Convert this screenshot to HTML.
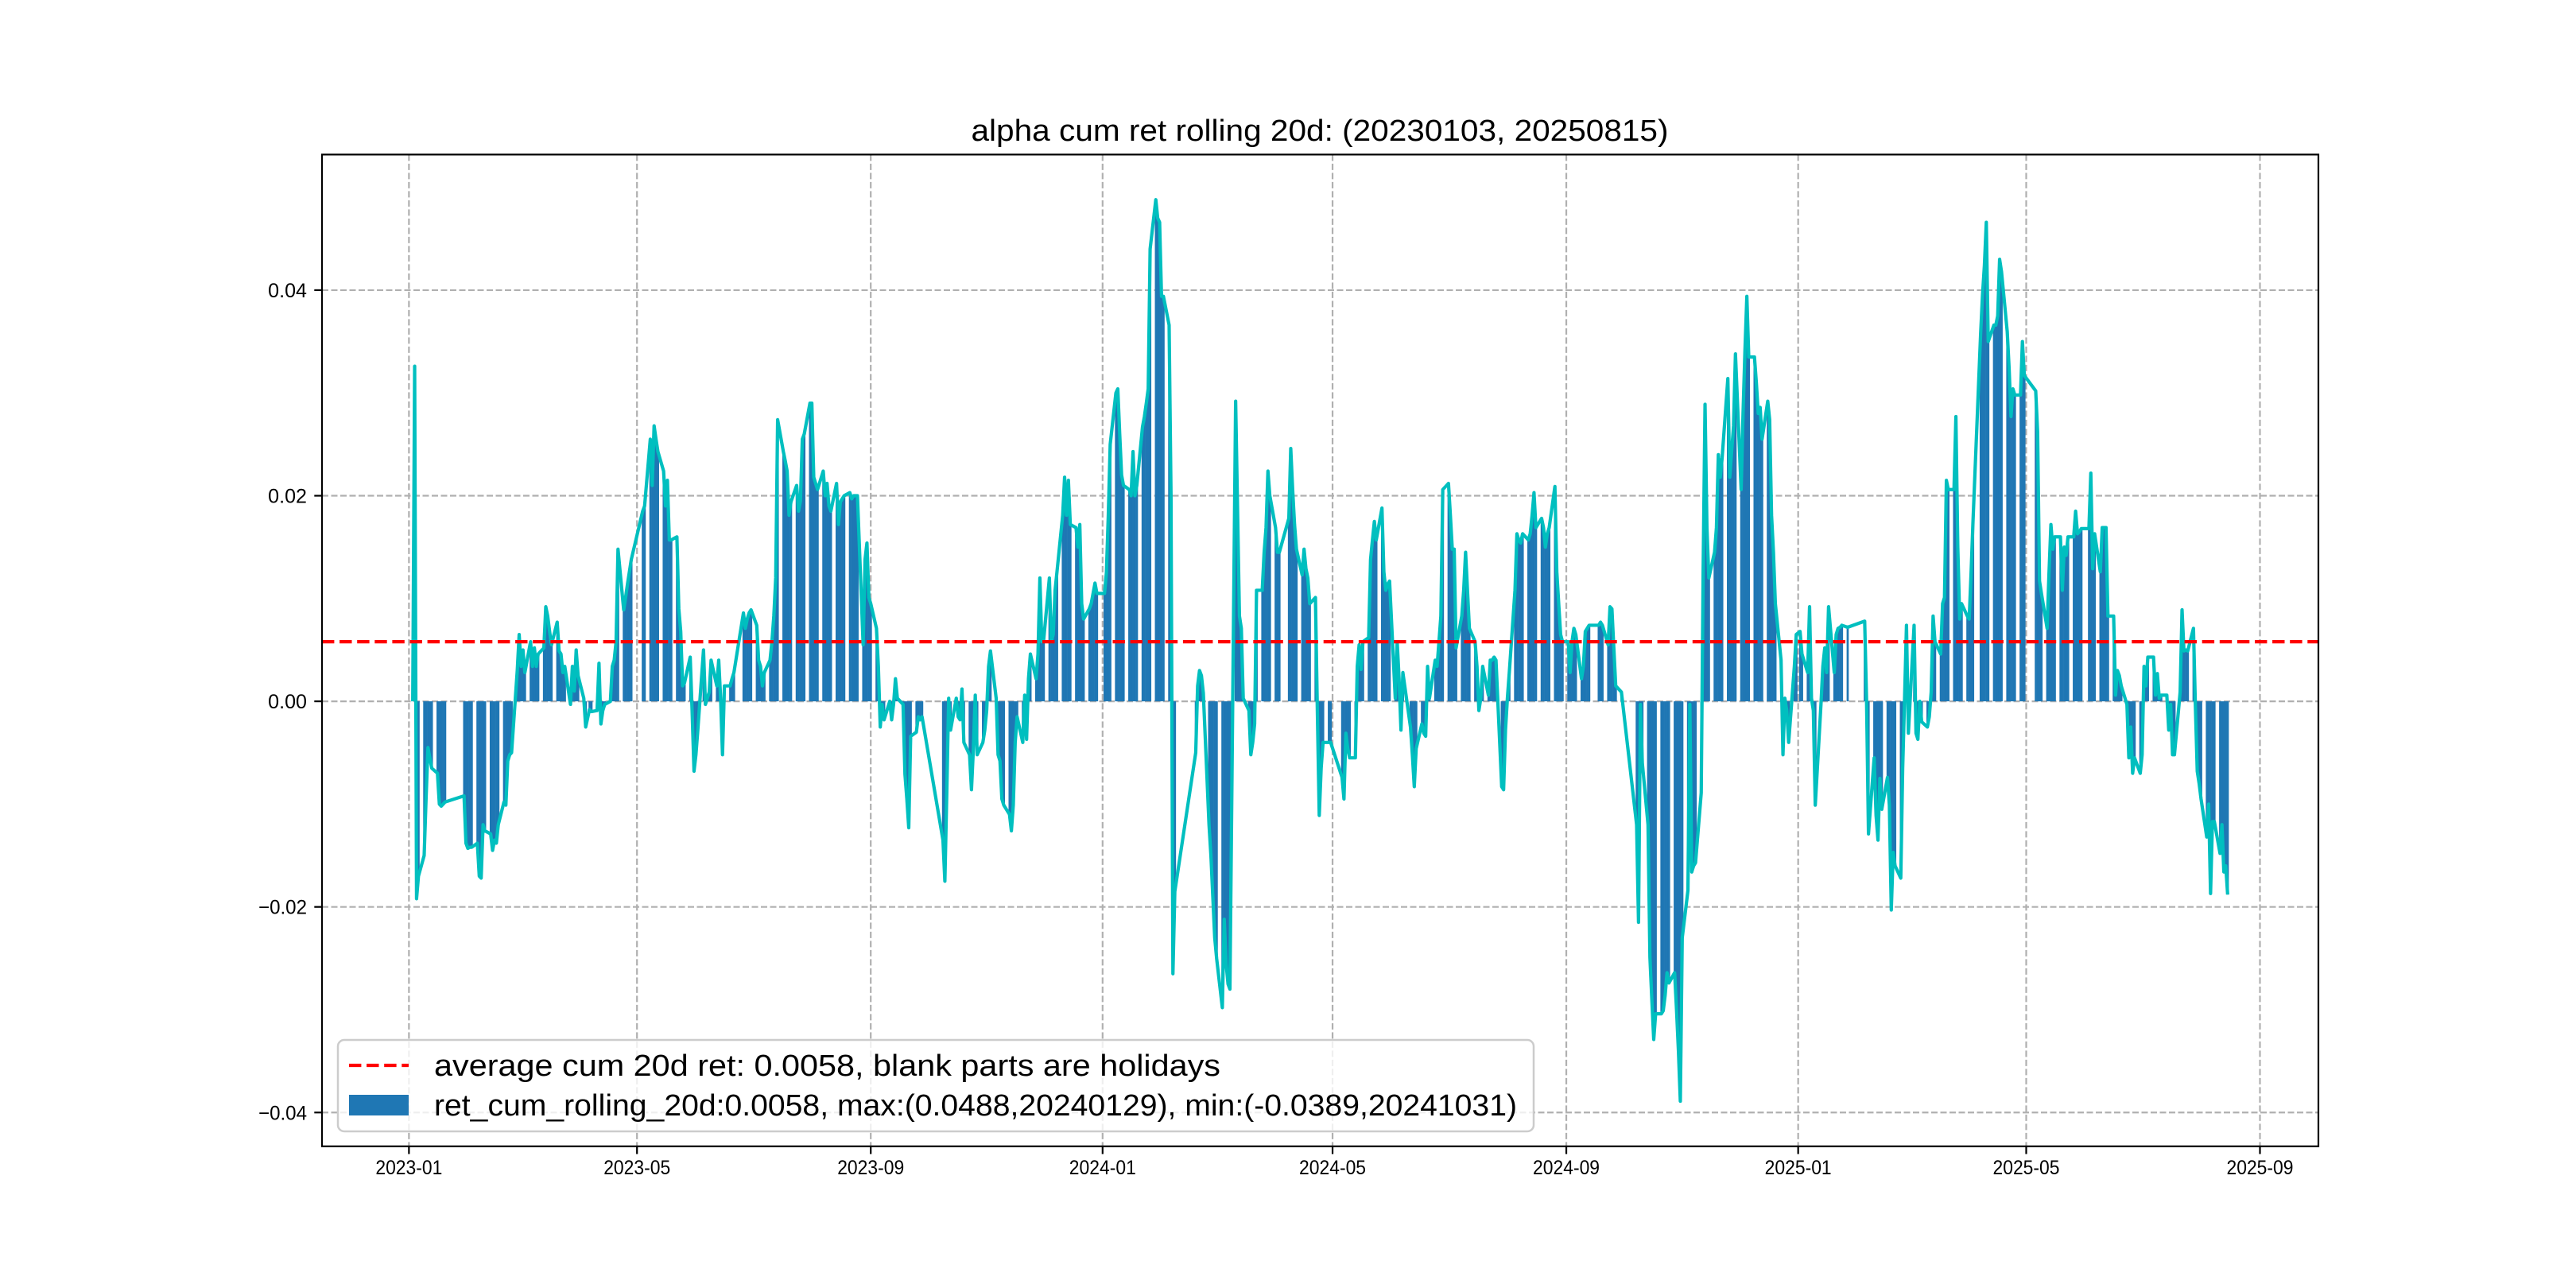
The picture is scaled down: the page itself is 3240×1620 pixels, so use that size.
<!DOCTYPE html>
<html>
<head>
<meta charset="utf-8">
<style>
  html,body{margin:0;padding:0;background:#fff;}
  svg{display:block;}
  text{font-family:"Liberation Sans","Noto Sans CJK SC",sans-serif;fill:#000;}
</style>
</head>
<body>
<svg id="chart" xmlns="http://www.w3.org/2000/svg" width="3240" height="1620" viewBox="0 0 3240 1620">
  <rect x="0" y="0" width="3240" height="1620" fill="#ffffff"/>
  <text x="1660" y="177" font-size="38" text-anchor="middle" textLength="877" lengthAdjust="spacingAndGlyphs">alpha cum ret rolling 20d: (20230103, 20250815)</text>
  <g id="grid"></g>
  <g id="bars"></g>
  <g id="lines"></g>
  <rect x="405" y="194.4" width="2511" height="1247.4" fill="none" stroke="#000" stroke-width="2.2"/>
  <g id="axes"></g>
  <g>
    <rect x="425" y="1308" width="1504" height="115" rx="8" ry="8" fill="#ffffff" fill-opacity="0.8" stroke="#cccccc" stroke-width="2.5"/>
    <line x1="439" y1="1340" x2="514" y2="1340" stroke="#ff0000" stroke-width="4.2" stroke-dasharray="15.4 6.7"/>
    <text x="546" y="1353" font-size="38" textLength="989" lengthAdjust="spacingAndGlyphs">average cum 20d ret: 0.0058, blank parts are holidays</text>
    <rect x="439" y="1377" width="75" height="26" fill="#1f77b4"/>
    <text x="546" y="1403" font-size="38" textLength="1362" lengthAdjust="spacingAndGlyphs">ret_cum_rolling_20d:0.0058, max:(0.0488,20240129), min:(-0.0389,20241031)</text>
  </g>
</svg>
<script>
// ---- data ----
const startMonday = [2023, 0, 2]; // weekday series starts Monday 2023-01-02
const values = [
null,0.0,0.0326,-0.0192,-0.017,
-0.015,-0.0095,-0.0045,-0.0055,-0.0065,
-0.007,-0.010,-0.0102,-0.010,-0.0098,
null,null,null,null,null,
-0.0092,-0.0138,-0.0143,-0.0142,-0.0142,
-0.0138,-0.017,-0.0172,-0.012,-0.0126,
-0.0129,-0.0145,-0.0135,-0.0138,-0.012,
-0.0098,-0.0101,-0.0058,-0.0052,-0.005,
0.003,0.0065,0.0034,0.005,0.0028,
0.0058,0.0034,0.0052,0.0034,0.0046,
0.0052,0.0092,0.0083,0.0068,0.0055,
0.0077,0.0049,0.0046,0.0028,0.0034,
-0.0003,0.0034,0.001,0.005,0.0025,
0.0003,-0.0025,null,-0.0008,-0.001,
-0.0009,0.0037,-0.0022,-0.0009,-0.0003,
0.0,0.0034,0.004,0.0058,0.0148,
0.0089,0.0101,0.0114,0.0126,0.0138,
null,null,null,0.0185,0.019,
0.0255,0.021,0.0268,0.0255,0.0243,
0.0224,0.019,0.0215,0.0157,0.0157,
0.016,0.009,0.0068,0.0015,0.0018,
0.0043,-0.0009,-0.0068,-0.0052,-0.0028,
0.005,-0.0003,0.0003,0.0009,0.004,
0.0015,0.004,0.0003,-0.0052,0.0015,
0.0015,0.0022,0.0028,null,null,
0.0086,0.0071,0.008,0.0086,0.0089,
0.0074,0.004,0.0034,0.0015,0.0028,
0.004,0.0058,0.0083,0.012,0.0274,
0.0243,0.0234,0.0224,0.0181,0.0194,
0.021,0.0185,0.0195,0.0255,0.026,
0.029,0.029,0.0218,0.0212,0.0206,
0.0224,0.02,0.0212,0.019,0.0185,
0.0212,0.0172,0.0194,0.0197,0.02,
0.0203,0.0197,0.02,0.02,0.02,
0.0055,0.0138,0.0154,0.0101,0.0095,
0.0071,0.0034,-0.0025,-0.0003,-0.0018,
0.0,-0.0018,-0.0003,0.0022,0.0003,
-0.0003,-0.0071,-0.0095,-0.0123,-0.0034,
-0.003,-0.0015,-0.0018,-0.0015,null,
null,null,null,null,null,
-0.0135,-0.0175,-0.009,0.0003,-0.0028,
0.0003,-0.0015,-0.0018,0.0012,-0.004,
-0.0052,-0.0086,-0.0046,0.0006,-0.0052,
-0.004,-0.0028,-0.0009,0.0034,0.0049,
0.0003,-0.0052,-0.0058,-0.0095,-0.0101,
-0.011,-0.0126,-0.0101,-0.004,-0.0015,
-0.004,0.0006,-0.0037,0.0022,0.0046,
0.0022,0.0046,0.012,0.0058,0.006,
0.012,0.0058,0.0065,0.0108,0.0126,
0.0181,0.0218,0.0181,0.0215,0.0172,
0.0169,0.015,0.0172,0.0095,0.008,
0.009,0.0095,0.0105,0.0115,0.0105,
null,0.0105,0.0125,0.0181,0.025,
0.030,0.0304,0.026,0.022,0.021,
0.0206,0.020,0.0243,0.020,0.021,
0.0267,0.0277,0.029,0.0304,0.044,
0.0488,0.047,0.0466,0.0394,0.0394,
0.0366,0.02,-0.0265,-0.0185,null,
null,null,null,null,null,
-0.005,0.0015,0.003,0.0025,0.0008,
-0.012,-0.015,-0.019,-0.023,-0.025,
-0.0298,-0.0212,-0.0255,-0.0275,-0.028,
0.0292,0.0188,0.0083,0.0071,0.0003,
-0.0009,-0.0052,-0.004,-0.0022,0.0108,
0.0108,0.0145,0.0169,0.0224,0.02,
0.0169,0.0145,0.0145,null,null,
0.0178,0.0246,0.0206,0.0172,0.0148,
0.0123,0.0148,0.0129,0.012,0.0095,
0.0101,-0.0009,-0.0111,-0.0065,-0.004,
-0.004,-0.004,null,null,null,
-0.0074,-0.0095,-0.0031,-0.0046,-0.0055,
-0.0055,0.0034,0.0055,0.0031,0.0058,
0.0062,0.0138,0.0157,0.0175,0.0157,
0.0188,0.0126,0.0108,0.0114,0.0117,
0.0003,0.0058,0.0022,-0.0028,0.0028,
null,-0.0025,-0.0052,-0.0083,-0.0046,
-0.0022,-0.0031,-0.0034,0.0034,0.0003,
0.004,0.0034,0.0058,0.0083,0.0206,
0.0212,0.0181,0.0148,0.0148,0.0052,
0.0083,0.0108,0.0145,0.0108,0.0071,
0.0058,0.0034,-0.0009,0.0003,0.0034,
0.0006,0.004,0.004,0.0043,0.004,
-0.0083,-0.0086,-0.0028,0.0003,0.0028,
0.0108,0.0163,0.0157,0.0154,0.0163,
0.0157,0.0163,0.0181,0.0203,0.0169,
0.0178,0.0169,0.015,0.0163,0.0169,
0.0209,0.0126,0.0095,0.0065,0.0058,
0.0058,0.0028,0.0058,0.0071,0.0065,
0.0022,0.0034,0.0068,0.0071,0.0074,
null,null,0.0074,0.0077,0.0074,
0.0055,0.0092,0.009,0.0052,0.0015,
0.0009,null,null,null,null,
null,-0.012,-0.0215,-0.0003,-0.006,
-0.012,-0.0249,-0.029,-0.0329,-0.0304,
-0.0304,-0.0301,-0.0286,-0.0264,-0.0274,
-0.0264,-0.030,-0.034,-0.0389,-0.023,
-0.0184,-0.0003,-0.0166,-0.016,-0.0157,
-0.0089,0.0126,0.0289,0.0169,0.012,
0.0145,0.0169,0.024,0.0218,0.0237,
0.0314,0.0218,0.0243,0.0268,0.0338,
0.0206,0.028,0.0341,0.0394,0.0335,
0.0335,0.031,0.028,0.0286,0.0255,
0.0292,0.0274,0.0181,0.0145,0.0095,
0.004,-0.0052,0.0003,-0.0009,-0.004,
0.0034,0.0065,null,0.0068,0.0046,
0.0028,0.0092,0.0003,-0.0009,-0.0101,
-0.0003,0.0034,0.0052,0.0028,0.0092,
0.0028,0.0065,0.0071,0.0072,0.0074,
0.0072,null,null,null,null,
null,null,0.0078,0.0,-0.0129,
-0.0055,-0.0111,-0.0135,-0.0075,-0.0105,
-0.0074,-0.0101,-0.0203,-0.0147,-0.016,
-0.0172,-0.0065,0.0003,0.0074,-0.0031,
0.0074,-0.0031,-0.0037,0.0,-0.002,
-0.0025,-0.0015,0.0009,0.0083,0.0058,
0.0046,0.0095,0.0101,0.0215,0.0206,
0.0206,0.0277,0.015,0.008,0.0095,
0.0083,0.008,0.0125,0.0175,null,
0.0357,0.0395,0.0424,0.0466,0.035,
0.0366,0.0366,0.0375,0.043,0.0418,
0.036,0.0324,0.0277,0.0304,0.0298,
0.0298,0.035,0.0317,null,null,
null,0.0302,0.0262,0.0117,0.0105,
0.0071,0.0125,0.0172,0.0148,0.016,
0.016,0.0108,0.015,0.0142,0.016,
0.016,0.0185,0.0163,0.0165,0.0168,
null,0.0168,0.0222,0.0129,0.0163,
0.0126,0.0169,0.0169,0.0169,0.0083,
0.0083,0.0006,0.003,0.0025,0.0015,
-0.0003,-0.0055,-0.0025,-0.007,-0.0055,
-0.007,-0.0052,0.0034,0.0015,0.0043,
0.0043,0.0006,0.0027,0.0003,0.0006,
0.0006,-0.0028,-0.0003,-0.0052,-0.0052,
0.0009,0.0089,0.0049,0.005,0.0049,
0.0071,-0.0003,-0.0068,-0.008,-0.0095,
-0.0132,-0.010,-0.0187,-0.0117,-0.0117,
-0.0148,-0.012,-0.0166,-0.016,-0.0188
];
const averageValue = [0.0058];
const yTicks = [-0.04, -0.02, 0.0, 0.02, 0.04];
const yTickLabels = ["\u22120.04", "\u22120.02", "0.00", "0.02", "0.04"];
const xTickDates = [[2023,0,1],[2023,4,1],[2023,8,1],[2024,0,1],[2024,4,1],[2024,8,1],[2025,0,1],[2025,4,1],[2025,8,1]];
const xTickLabels = ["2023-01","2023-05","2023-09","2024-01","2024-05","2024-09","2025-01","2025-05","2025-09"];

// ---- axes ----
const NS = "http://www.w3.org/2000/svg";
const PL = 405, PR = 2916, PT = 194.4, PB = 1441.8;
const XMIN = -45.75, XMAX = 1004.75;   // days since 2023-01-01
const YMIN = -0.04329, YMAX = 0.05319;
const DAY0 = Date.UTC(2023, 0, 1);
function dayOf(y, m, d) { return (Date.UTC(y, m, d) - DAY0) / 86400000; }
function xScale(day) { return PL + (day - XMIN) / (XMAX - XMIN) * (PR - PL); }
function yScale(v) { return PB - (v - YMIN) / (YMAX - YMIN) * (PB - PT); }
function mk(tag, attrs, parent) {
  const el = document.createElementNS(NS, tag);
  for (const k in attrs) el.setAttribute(k, attrs[k]);
  parent.appendChild(el);
  return el;
}
const gGrid = document.getElementById('grid');
const gBars = document.getElementById('bars');
const gLines = document.getElementById('lines');
const gAxes = document.getElementById('axes');

// series dates: weekdays starting Monday
const startDay = dayOf(startMonday[0], startMonday[1], startMonday[2]);
const points = [];
values.forEach(function (v, i) {
  if (v === null) return;
  const day = startDay + Math.floor(i / 5) * 7 + (i % 5);
  points.push([day, v]);
});

// grid
xTickDates.forEach(function (t, i) {
  const x = xScale(dayOf(t[0], t[1], t[2]));
  const gl = mk('line', {x1: x, y1: PT, x2: x, y2: PB, stroke: '#b0b0b0', 'stroke-width': 2.2, 'stroke-dasharray': '8 3.5'}, gGrid);
  
  
  const tk = mk('line', {x1: x, y1: PB, x2: x, y2: PB + 9.7, stroke: '#000', 'stroke-width': 2.2}, gAxes);
  
  
  const tx = mk('text', {x: x, y: 1477, 'font-size': 25, 'text-anchor': 'middle', textLength: 84, lengthAdjust: 'spacingAndGlyphs'}, gAxes);
  tx.textContent = xTickLabels[i];
  
  
});
yTicks.forEach(function (v, i) {
  const y = yScale(v);
  const gl = mk('line', {x1: PL, y1: y, x2: PR, y2: y, stroke: '#b0b0b0', 'stroke-width': 2.2, 'stroke-dasharray': '8 3.5'}, gGrid);
  
  
  const tk = mk('line', {x1: PL - 9.7, y1: y, x2: PL, y2: y, stroke: '#000', 'stroke-width': 2.2}, gAxes);
  
  
  const lbl = yTickLabels[i];
  const tx = mk('text', {x: 386, y: y + 9, 'font-size': 25, 'text-anchor': 'end', textLength: lbl.length * 12.2, lengthAdjust: 'spacingAndGlyphs'}, gAxes);
  tx.textContent = lbl;
  
  
});

// bars
const barW = (PR - PL) / (XMAX - XMIN) * 1.0;
const y0 = yScale(0);
points.forEach(function (p) {
  const x = xScale(p[0]);
  const y = yScale(p[1]);
  const r = mk('rect', {x: x - barW / 2, y: Math.min(y, y0), width: barW + 0.3, height: Math.abs(y - y0), fill: '#1f77b4'}, gBars);
  
  
});

// cyan line
const pts = points.map(function (p) { return xScale(p[0]).toFixed(2) + ',' + yScale(p[1]).toFixed(2); }).join(' ');
const pl = mk('polyline', {points: pts, fill: 'none', stroke: '#00bfbf', 'stroke-width': 4.2, 'stroke-linejoin': 'round'}, gLines);



// average dashed line
const ya = yScale(averageValue[0]);
const al = mk('line', {x1: PL, y1: ya, x2: PR, y2: ya, stroke: '#ff0000', 'stroke-width': 4.2, 'stroke-dasharray': '15.4 6.7'}, gLines);


</script>
</body>
</html>
